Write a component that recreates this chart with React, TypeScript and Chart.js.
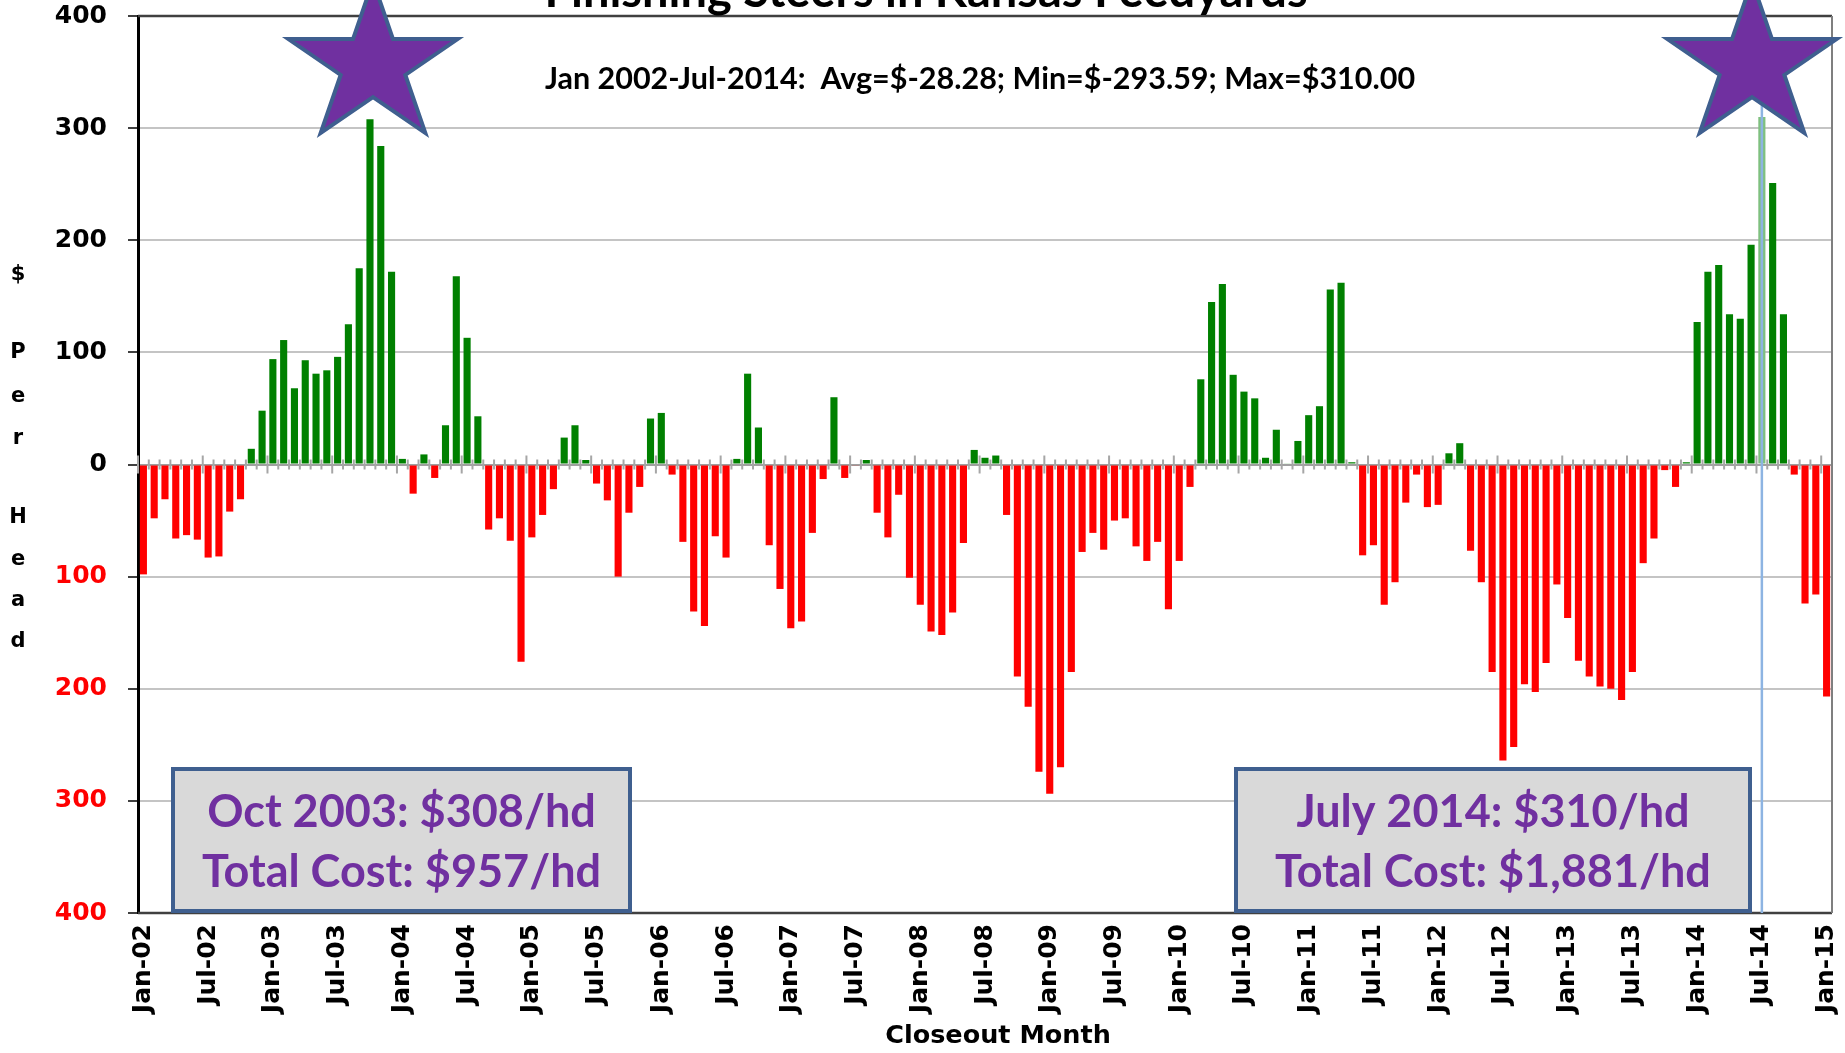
import React, { useEffect, useRef } from "react";
import { Chart, registerables } from "chart.js";

Chart.register(...registerables);

// ---- Data ----
const monthNames = ["Jan", "Feb", "Mar", "Apr", "May", "Jun", "Jul", "Aug", "Sep", "Oct", "Nov", "Dec"];
const yearLabels = ["02", "03", "04", "05", "06", "07", "08", "09", "10", "11", "12", "13", "14", "15"];

const profit2002 = [-98, -48, -31, -66, -63, -67, -83, -82, -42, -31, 14, 48];
const profit2003 = [94, 111, 68, 93, 81, 84, 96, 125, 175, 308, 284, 172];
const profit2004 = [5, -26, 9, -12, 35, 168, 113, 43, -58, -48, -68, -176];
const profit2005 = [-65, -45, -22, 24, 35, 4, -17, -32, -100, -43, -20, 41];
const profit2006 = [46, -9, -69, -131, -144, -64, -83, 5, 81, 33, -72, -111];
const profit2007 = [-146, -140, -61, -13, 60, -12, -1, 4, -43, -65, -27, -101];
const profit2008 = [-125, -149, -152, -132, -70, 13, 6, 8, -45, -189, -216, -274];
const profit2009 = [-293.59, -270, -185, -78, -61, -76, -50, -48, -73, -86, -69, -129];
const profit2010 = [-86, -20, 76, 145, 161, 80, 65, 59, 6, 31, 1, 21];
const profit2011 = [44, 52, 156, 162, 2, -81, -72, -125, -105, -34, -9, -38];
const profit2012 = [-36, 10, 19, -77, -105, -185, -264, -252, -196, -203, -177, -107];
const profit2013 = [-137, -175, -189, -198, -200, -210, -185, -88, -66, -5, -20, 2];
const profit2014 = [127, 172, 178, 134, 130, 196, 310, 251, 134, -9, -124, -116];
const profit2015 = [-207];

const yTickValues = [-400, -300, -200, -100, 0, 100, 200, 300, 400];

const titleText = "Finishing Steers in Kansas Feedyards";
const subtitleText = "Jan 2002-Jul-2014:  Avg=$-28.28; Min=$-293.59; Max=$310.00";
const yAxisLetters = ["$", "P", "e", "r", "H", "e", "a", "d"];
const xAxisTitle = "Closeout Month";
const box1Lines = ["Oct 2003: $308/hd", "Total Cost: $957/hd"];
const box2Lines = ["July 2014: $310/hd", "Total Cost: $1,881/hd"];
const highlightLabel = "Jul-14";

const values: number[] = [
  ...profit2002, ...profit2003, ...profit2004, ...profit2005, ...profit2006,
  ...profit2007, ...profit2008, ...profit2009, ...profit2010, ...profit2011,
  ...profit2012, ...profit2013, ...profit2014, ...profit2015,
];
const categories: string[] = [];
yearLabels.forEach((yy) => monthNames.forEach((m) => categories.push(`${m}-${yy}`)));
categories.length = values.length;
const highlightIndex = categories.indexOf(highlightLabel);

// ---- Styles ----
const GREEN = "#008000";
const RED = "#ff0000";
const PURPLE = "#7030a0";
const SHAPE_BORDER = "#3f5f8f";
const AXIS_FONT = "'DejaVu Sans', Verdana, sans-serif";
const TEXT_FONT = "Lato, 'Open Sans', sans-serif";

function drawStar(ctx: CanvasRenderingContext2D, cx: number, cy: number, rx: number, ry: number) {
  const inner = 0.382;
  ctx.beginPath();
  for (let k = 0; k < 10; k++) {
    const ang = -Math.PI / 2 + (k * Math.PI) / 5;
    const r = k % 2 === 0 ? 1 : inner;
    const px = cx + Math.cos(ang) * rx * r;
    const py = cy + Math.sin(ang) * ry * r;
    if (k === 0) ctx.moveTo(px, py);
    else ctx.lineTo(px, py);
  }
  ctx.closePath();
  ctx.fillStyle = PURPLE;
  ctx.fill();
  ctx.lineWidth = 4;
  ctx.strokeStyle = SHAPE_BORDER;
  ctx.lineJoin = "miter";
  ctx.stroke();
}

function drawBox(ctx: CanvasRenderingContext2D, x0: number, y0: number, x1: number, y1: number, lines: string[]) {
  ctx.fillStyle = "#d9d9d9";
  ctx.fillRect(x0, y0, x1 - x0, y1 - y0);
  ctx.lineWidth = 4;
  ctx.strokeStyle = SHAPE_BORDER;
  ctx.strokeRect(x0, y0, x1 - x0, y1 - y0);
  ctx.fillStyle = PURPLE;
  ctx.font = `bold 45px ${TEXT_FONT}`;
  ctx.textAlign = "center";
  ctx.textBaseline = "alphabetic";
  const cx = (x0 + x1) / 2;
  ctx.fillText(lines[0], cx, y0 + 58);
  ctx.fillText(lines[1], cx, y0 + 118);
}

const overlayPlugin = {
  id: "overlay",
  beforeDatasetsDraw(chart: any) {
    const { ctx, chartArea, scales } = chart;
    const x = scales.x;
    const y0 = scales.y.getPixelForValue(0);
    const slot = (chartArea.right - chartArea.left) / values.length;
    ctx.save();
    ctx.strokeStyle = "#a6a6a6";
    ctx.lineWidth = 2;
    for (let b = 0; b <= values.length; b++) {
      const xx = x.getPixelForValue(0) - slot / 2 + b * slot;
      const L = b % 6 === 0 ? 9 : 5;
      ctx.beginPath();
      ctx.moveTo(xx, y0 - L);
      ctx.lineTo(xx, y0 + L);
      ctx.stroke();
    }
    ctx.restore();
  },
  afterDraw(chart: any) {
    const { ctx, chartArea, scales } = chart;
    const { left, right, top, bottom } = chartArea;
    ctx.save();

    // frame
    ctx.lineWidth = 2.5;
    ctx.strokeStyle = "#404040";
    ctx.beginPath();
    ctx.moveTo(left, top);
    ctx.lineTo(right, top);
    ctx.stroke();
    ctx.beginPath();
    ctx.moveTo(left, bottom);
    ctx.lineTo(right, bottom);
    ctx.stroke();
    ctx.lineWidth = 2;
    ctx.strokeStyle = "#7f7f7f";
    ctx.beginPath();
    ctx.moveTo(right, top);
    ctx.lineTo(right, bottom);
    ctx.stroke();

    // highlight line at Jul-14
    const hx = scales.x.getPixelForValue(highlightIndex);
    ctx.strokeStyle = "#8db4e2";
    ctx.lineWidth = 2.5;
    ctx.beginPath();
    ctx.moveTo(hx, 90);
    ctx.lineTo(hx, bottom);
    ctx.stroke();

    // stars
    drawStar(ctx, 373, 65, 89, 84);
    drawStar(ctx, 1752, 65, 89, 84);

    // title (cropped at the top) and subtitle
    ctx.fillStyle = "#000";
    ctx.textAlign = "center";
    ctx.textBaseline = "alphabetic";
    ctx.font = `bold 47px ${TEXT_FONT}`;
    ctx.fillText(titleText, 926, 7);
    ctx.font = `bold 30.5px ${TEXT_FONT}`;
    ctx.fillText(subtitleText, 980, 89);

    // y axis title (stacked letters)
    ctx.font = `bold 21px ${AXIS_FONT}`;
    ctx.textBaseline = "middle";
    const letterY = [275, 353, 397, 439, 518, 560, 601, 642];
    yAxisLetters.forEach((ch, i) => ctx.fillText(ch, 18, letterY[i]));

    // x axis title
    ctx.font = `bold 25.5px ${AXIS_FONT}`;
    ctx.fillText(xAxisTitle, 998, 1036);

    // annotation boxes
    drawBox(ctx, 173, 769, 630, 911, box1Lines);
    drawBox(ctx, 1236, 769, 1750, 911, box2Lines);

    ctx.restore();
  },
};

export default function App() {
  const ref = useRef<HTMLCanvasElement>(null);
  useEffect(() => {
    const canvas = ref.current;
    if (!canvas) return;
    const chart = new Chart(canvas, {
      type: "bar",
      data: {
        labels: categories,
        datasets: [
          {
            data: values,
            backgroundColor: values.map((v, i) => (i === highlightIndex ? "#7fc07f" : v >= 0 ? GREEN : RED)),
            borderWidth: 0,
            barPercentage: 0.66,
            categoryPercentage: 1,
          },
        ],
      },
      options: {
        responsive: false,
        animation: false,
        devicePixelRatio: 1,
        layout: { padding: { left: 0, right: 13, top: 16, bottom: 0 } },
        plugins: { legend: { display: false }, tooltip: { enabled: false }, title: { display: false } },
        scales: {
          x: {
            type: "category",
            offset: true,
            grid: { display: false, drawTicks: false },
            border: { display: false },
            ticks: {
              autoSkip: false,
              minRotation: 90,
              maxRotation: 90,
              padding: 11,
              color: "#000",
              font: { family: AXIS_FONT, weight: "bold", size: 25 },
              callback: (_v: any, i: number) => (i % 6 === 0 ? categories[i] : ""),
            },
            afterFit: (s: any) => {
              s.height = 140;
              s.paddingLeft = 0;
              s.paddingRight = 0;
            },
          },
          y: {
            min: yTickValues[0],
            max: yTickValues[yTickValues.length - 1],
            afterBuildTicks: (s: any) => {
              s.ticks = yTickValues.map((v) => ({ value: v }));
            },
            ticks: {
              padding: 21,
              color: (c: any) => (c.tick && c.tick.value < 0 ? RED : "#000"),
              font: { family: AXIS_FONT, weight: "bold", size: 25 },
              callback: (v: any) => String(Math.abs(Number(v))),
            },
            grid: {
              color: (c: any) =>
                c.tick && c.tick.value === 0
                  ? "#a0a0a0"
                  : c.tick && Math.abs(c.tick.value) === 400
                  ? "rgba(0,0,0,0)"
                  : "#c4c4c4",
              lineWidth: 2,
              tickLength: 10,
              tickColor: "#404040",
              tickWidth: 2,
            },
            border: { color: "#000", width: 3 },
            afterFit: (s: any) => {
              s.width = 138;
              s.paddingTop = 0;
              s.paddingBottom = 0;
            },
          },
        },
      },
      plugins: [overlayPlugin],
    } as any);
    return () => chart.destroy();
  }, []);
  return (
    <div style={{ position: "fixed", left: 0, top: 0, width: 1845, height: 1053, background: "#fff" }}>
      <canvas ref={ref} width={1845} height={1053} style={{ display: "block" }} />
    </div>
  );
}
